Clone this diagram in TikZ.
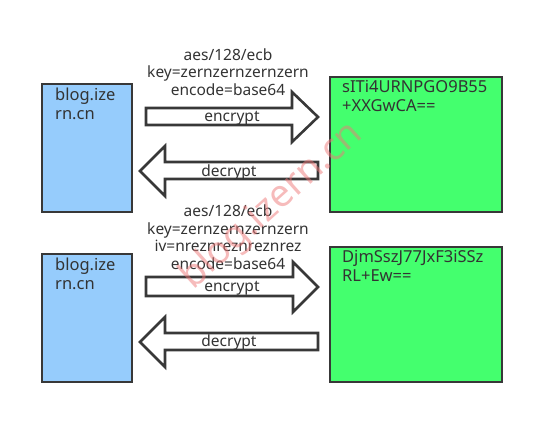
\documentclass[tikz,border=0pt]{standalone}
\usepackage{fontspec}
\setmainfont{Noto Sans}
\begin{document}
\begin{tikzpicture}[x=1pt,y=-1pt,
  box/.style={draw=black!78,line width=2.6pt},
  bluebox/.style={box,fill={rgb,255:red,150;green,204;blue,252}},
  greenbox/.style={box,fill={rgb,255:red,68;green,255;blue,110}},
  arr/.style={draw=black!78,line width=2.6pt,fill=white,line join=miter},
  lbl/.style={font=\fontsize{15.5}{18}\selectfont,text=black!80,inner sep=0pt,anchor=base},
  boxtxt/.style={font=\fontsize{16.5}{20}\selectfont,text=black!80,inner sep=0pt,anchor=base west},
  wm/.style={font=\fontsize{38}{40}\selectfont,text={rgb,255:red,238;green,120;blue,120},opacity=0.5,inner sep=0pt}
]
\useasboundingbox (0,0) rectangle (539,427);
% boxes
\draw[bluebox] (42,84) rectangle (132,212);
\draw[greenbox] (330,77) rectangle (502,212);
\draw[bluebox] (42,254) rectangle (132,382);
\draw[greenbox] (330,247) rectangle (502,382);
\node[boxtxt] (t1a) at (55,101) {blog.ize};
\node[boxtxt] (t1b) at (55,120) {rn.cn};
\node[boxtxt] (t2a) at (342,93) {sITi4URNPGO9B55};
\node[boxtxt] (t2b) at (342,112) {+XXGwCA==};
\node[boxtxt] (t3a) at (55,271) {blog.ize};
\node[boxtxt] (t3b) at (55,290) {rn.cn};
\node[boxtxt] (t4a) at (342,263) {DjmSszJ77JxF3iSSz};
\node[boxtxt] (t4b) at (342,282) {RL+Ew==};
% top arrows
\draw[arr] (146,108) -- (292,108) -- (292,92) -- (318,117) -- (292,142) -- (292,125) -- (146,125) -- cycle;
\draw[arr] (318,162) -- (165,162) -- (165,146) -- (140,171) -- (165,196) -- (165,179) -- (318,179) -- cycle;
% bottom arrows
\draw[arr] (146,277) -- (293,277) -- (293,262) -- (318,287) -- (293,312) -- (293,296) -- (146,296) -- cycle;
\draw[arr] (318,333) -- (165,333) -- (165,317) -- (140,342) -- (165,367) -- (165,350) -- (318,350) -- cycle;
% labels
\node[lbl] (p1a) at (228,61) {aes/128/ecb};
\node[lbl] (p1b) at (228,78) {key=zernzernzernzern};
\node[lbl] (p1c) at (228,96) {encode=base64};
\node[lbl] (e1) at (232,122) {encrypt};
\node[lbl] (d1) at (229,177) {decrypt};
\node[lbl] (p2a) at (228,217) {aes/128/ecb};
\node[lbl] (p2b) at (228,234.5) {key=zernzernzernzern};
\node[lbl] (p2c) at (228,252) {iv=nreznreznreznrez};
\node[lbl] (p2d) at (228,270) {encode=base64};
\node[lbl] (e2) at (232,292) {encrypt};
\node[lbl] (d2) at (229,347) {decrypt};
% watermark
\node[wm,rotate=42] (w) at (272,206) {blog.izern.cn};
\end{tikzpicture}
\end{document}
